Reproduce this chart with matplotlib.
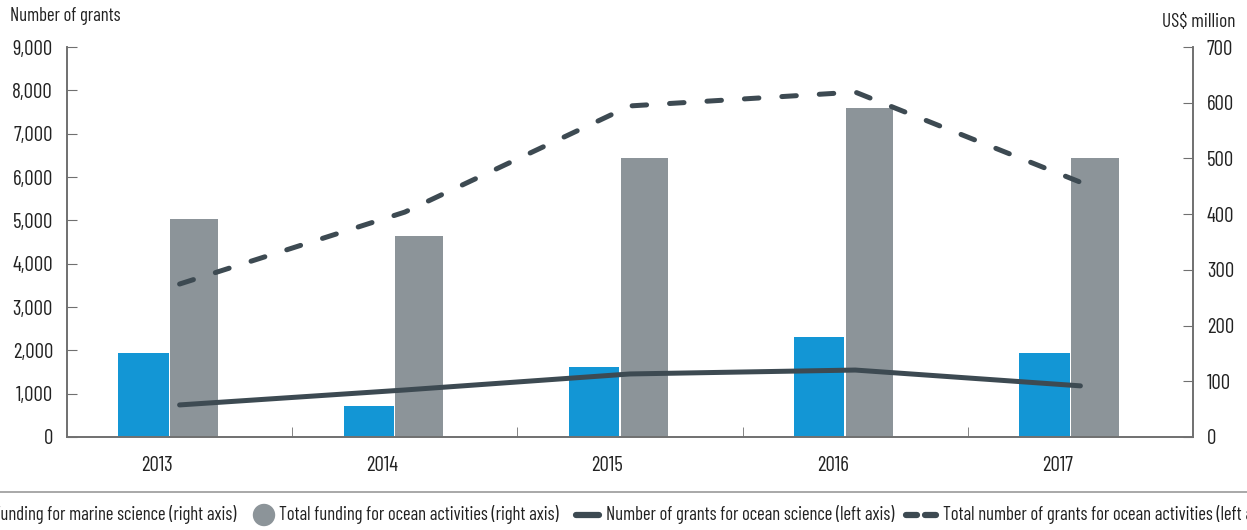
import matplotlib
matplotlib.use("Agg")
import matplotlib.pyplot as plt
from matplotlib.lines import Line2D
from matplotlib.patches import Ellipse
from matplotlib import font_manager
import numpy as np

years = ["2013", "2014", "2015", "2016", "2017"]
marine_funding = [151, 56, 126, 180, 151]          # US$ million (right axis)
ocean_funding = [391, 361, 500, 591, 500]          # US$ million (right axis)
grants_science = [740, 1085, 1455, 1545, 1180]     # number (left axis)
grants_total = [3530, 5190, 7640, 7960, 5880]      # number (left axis)

legend_labels = [
    "Funding for marine science (right axis)",
    "Total funding for ocean activities (right axis)",
    "Number of grants for ocean science (left axis)",
    "Total number of grants for ocean activities (left axis)",
]

names = {f.name for f in font_manager.fontManager.ttflist}
fam = "DejaVu Sans"
for cand in ["Barlow Condensed", "Roboto Condensed", "Asap Condensed", "Archivo Narrow", "Saira Condensed"]:
    if cand in names:
        fam = cand
        break
plt.rcParams["font.family"] = [fam, "DejaVu Sans"]

BLUE = "#1396d5"
GRAY = "#8c9499"
DARK = "#3d4a52"
SPINE = "#707070"
TXT = "#222222"

W, H = 1247, 530
fig = plt.figure(figsize=(W / 100, H / 100), dpi=100)
ax = fig.add_axes([67 / W, 1 - 437 / H, (1193 - 67) / W, (437 - 47) / H])
ax2 = ax.twinx()

x = np.arange(len(years))
ax2.bar(x - 0.16, marine_funding, width=0.224, color=BLUE, linewidth=0, zorder=2)
ax2.bar(x + 0.064, ocean_funding, width=0.212, color=GRAY, linewidth=0, zorder=2)
ax2.set_ylim(0, 700)

ax.set_ylim(0, 9000)
ax.set_zorder(ax2.get_zorder() + 1)
ax.patch.set_visible(False)
ax.plot(x, grants_science, color=DARK, lw=3.6, solid_capstyle="round", zorder=3)
dl, = ax.plot(x, grants_total, color=DARK, lw=3.6, dash_capstyle="round", zorder=3)
dl.set_dashes((2.9, 4.6))

ax.set_xlim(-0.5, 4.5)
ax.set_xticks(x - 0.1)
ax.set_xticklabels(years)
ax.set_xticks(np.arange(0.5, 4.5, 1), minor=True)
ax.tick_params(axis="x", which="major", length=0, pad=14, labelsize=15, labelcolor=TXT)
ax.tick_params(axis="x", which="minor", length=7, direction="in", color=SPINE)

ax.set_yticks(np.arange(0, 9001, 1000))
ax.set_yticklabels([f"{v:,}" for v in range(0, 9001, 1000)])
ax.tick_params(axis="y", direction="in", length=7, color=SPINE, labelsize=15, labelcolor=TXT, pad=10)
ax2.set_yticks(np.arange(0, 701, 100))
ax2.tick_params(axis="y", direction="in", length=7, color=SPINE, labelsize=15, labelcolor=TXT, pad=10)
ax2.set_xlim(-0.5, 4.5)

for a in (ax, ax2):
    a.spines["top"].set_visible(False)
    for s in ("left", "right", "bottom"):
        a.spines[s].set_color(SPINE)
        a.spines[s].set_linewidth(1.2)

fig.text(10 / W, 1 - 16 / H, "Number of grants", fontsize=13.4, color=TXT, va="center", ha="left")
fig.text(1236 / W, 1 - 22 / H, "US$ million", fontsize=14, color=TXT, va="center", ha="right")

# divider line above legend
fig.add_artist(Line2D([0, 1], [1 - 492 / H, 1 - 492 / H], transform=fig.transFigure, color="#999999", lw=1.2))

ly = 1 - 515 / H
fs = 13.4
fig.text(236 / W, ly, legend_labels[0], fontsize=fs, color=TXT, ha="right", va="center")
fig.add_artist(Ellipse((264 / W, ly), 21 / W, 21 / H, transform=fig.transFigure, color=GRAY))
fig.text(279 / W, ly, legend_labels[1], fontsize=fs, color=TXT, ha="left", va="center")
fig.add_artist(Line2D([576 / W, 599 / W], [ly, ly], transform=fig.transFigure, color=DARK, lw=4.5, solid_capstyle="round"))
fig.text(606 / W, ly, legend_labels[2], fontsize=fs, color=TXT, ha="left", va="center")
fig.add_artist(Line2D([906 / W, 917 / W], [ly, ly], transform=fig.transFigure, color=DARK, lw=4.5, solid_capstyle="round"))
fig.add_artist(Line2D([925 / W, 936 / W], [ly, ly], transform=fig.transFigure, color=DARK, lw=4.5, solid_capstyle="round"))
fig.text(943 / W, ly, legend_labels[3], fontsize=fs, color=TXT, ha="left", va="center")

fig.savefig("out.png", dpi=100)
